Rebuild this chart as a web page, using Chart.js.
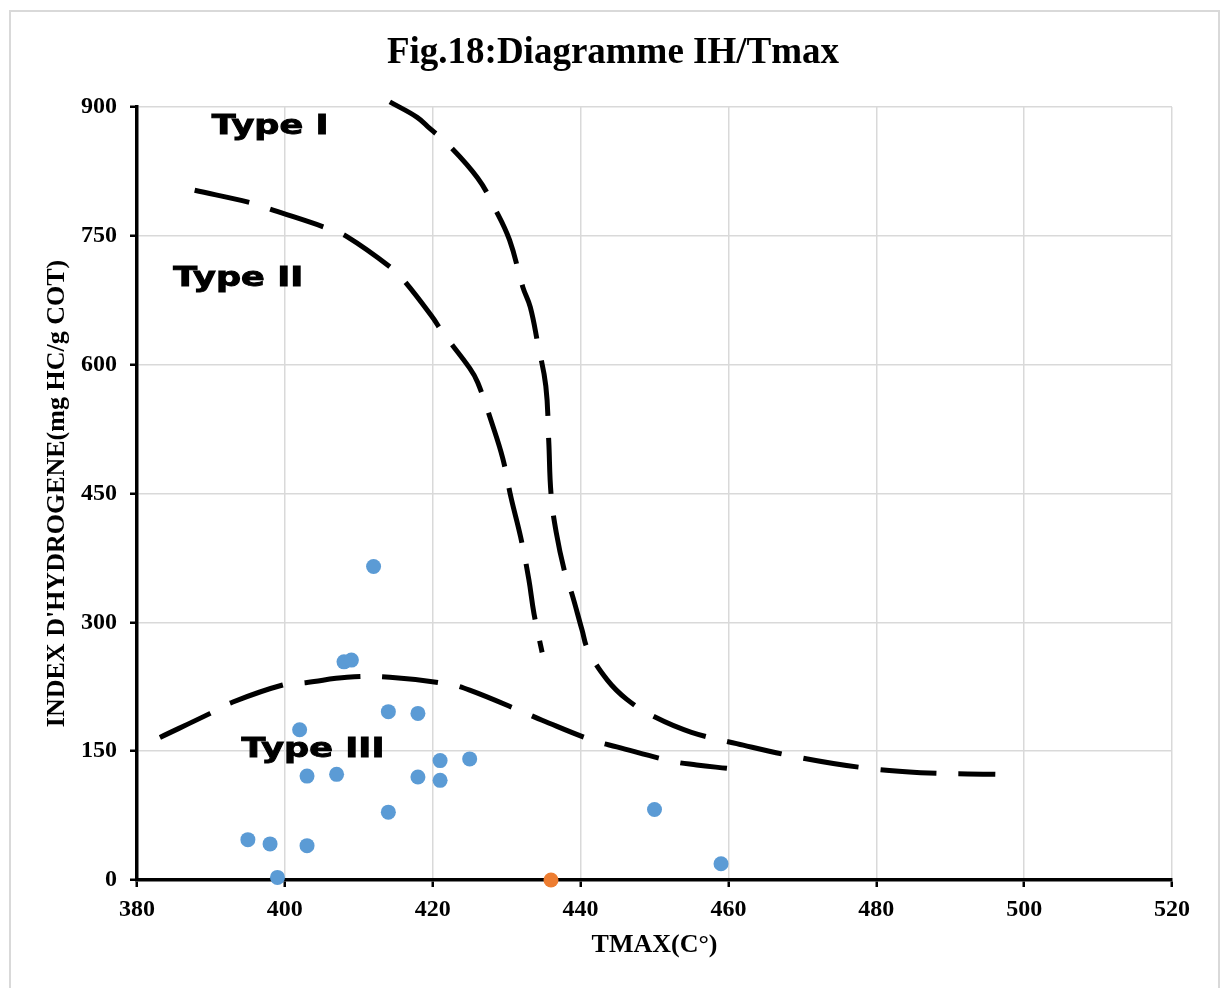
<!DOCTYPE html>
<html>
<head>
<meta charset="utf-8">
<script src="https://cdn.jsdelivr.net/npm/chart.js@4.4.1/dist/chart.umd.min.js"></script>
<style>
  html, body { margin: 0; padding: 0; background: #fff; }
  #wrap { position: relative; width: 1222px; height: 988px; overflow: hidden; }
  #frame { position: absolute; left: 9px; top: 10px; width: 1207px; height: 1000px;
           border: 2px solid #d9d9d9; pointer-events: none; }
  canvas { position: absolute; left: 0; top: 0; }
</style>
</head>
<body>
<div id="wrap">
  <canvas id="ihChart" width="1222" height="988"></canvas>
  <div id="frame"></div>
</div>
<script>
// samples (Tmax, IH)
const tmax = [412, 408, 409, 402, 414, 418, 403, 407, 418, 421, 421, 425, 414, 395, 398, 403, 399, 450, 459];
const ih   = [365, 254, 256, 175, 196, 194, 121, 123, 120, 139, 116, 141, 79, 47, 42, 40, 3, 82, 19];
const tmaxOrange = [436];
const ihOrange   = [0];

// Type I boundary
const type1X = [414.2, 417.9, 419.6, 421.9, 426.1, 428.4, 430.4, 432.2, 433.2, 434.2, 435.3, 435.7, 436.0, 436.7,
                437.9, 438.8, 440.2, 441.0, 443.6, 446.3, 450.0, 455.0, 462.0, 470.0, 478.0, 486.0, 496.1];
const type1Y = [906, 888, 875, 858, 817, 782, 745, 690, 667, 625, 575, 510, 450, 405,
                357, 334, 291, 268, 233, 210, 190, 172, 157, 142, 131, 125, 123];
// Type II boundary
const type2X = [387.8, 395.6, 398.4, 405.7, 408.4, 414.2, 416.0, 419.9, 421.3, 425.0, 426.1, 428.0, 429.5,
                430.6, 431.9, 433.0, 433.7, 434.8];
const type2Y = [803, 788, 780, 759, 749, 714, 699, 656, 638, 596, 579, 532, 490,
                445, 399, 350, 310, 265];
// Type III boundary
const type3X = [383.1, 389.9, 392.6, 399.7, 403.0, 408.4, 414.2, 422.1, 425.0, 432.1, 434.8, 441.5, 444.9,
                452.5, 455.7, 459.8];
const type3Y = [166, 194, 206, 227, 230, 236, 236, 228, 221, 196, 186, 163, 155,
                138, 134, 130];

const xTicks = [380, 400, 420, 440, 460, 480, 500, 520];
const yTicks = [0, 150, 300, 450, 600, 750, 900];

const chartTitle = 'Fig.18:Diagramme IH/Tmax';
const typeLabels = ['Type I', 'Type II', 'Type III'];
const typeLabelPos = [[398, 877], [393.7, 699], [403.8, 151]];

function toPoints(xs, ys) {
  const pts = [];
  for (let i = 0; i < xs.length; i++) {
    pts.push({ x: xs[i], y: ys[i] });
  }
  return pts;
}

function curve(xs, ys) {
  return {
    data: toPoints(xs, ys),
    showLine: true,
    borderColor: '#000',
    borderWidth: 5,
    borderDash: [56, 22],
    borderCapStyle: 'butt',
    pointRadius: 0,
    tension: 0.4,
    clip: false,
    fill: false
  };
}

const serif = '"Liberation Serif", "Times New Roman", serif';

// title centred on the whole figure, not on the plot
const titlePlugin = {
  id: 'figTitle',
  afterDraw(chart) {
    const ctx = chart.ctx;
    ctx.save();
    ctx.fillStyle = '#000';
    ctx.font = 'bold 37px ' + serif;
    ctx.textAlign = 'center';
    ctx.textBaseline = 'middle';
    ctx.fillText(chartTitle, chart.width / 2 + 2, 53);
    ctx.restore();
  }
};

// wide heavy labels, stretched a bit like Arial Black
const typeLabelPlugin = {
  id: 'typeLabels',
  afterDatasetsDraw(chart) {
    const ctx = chart.ctx;
    const xs = chart.scales.x;
    const ys = chart.scales.y;
    ctx.save();
    ctx.fillStyle = '#000';
    ctx.strokeStyle = '#000';
    ctx.lineWidth = 0.9;
    ctx.font = 'bold 26px "DejaVu Sans"';
    ctx.textAlign = 'center';
    ctx.textBaseline = 'middle';
    for (let i = 0; i < typeLabels.length; i++) {
      const px = xs.getPixelForValue(typeLabelPos[i][0]);
      const py = ys.getPixelForValue(typeLabelPos[i][1]);
      ctx.save();
      ctx.translate(px, py);
      ctx.scale(1.35, 1);
      ctx.fillText(typeLabels[i], 0, 0);
      ctx.strokeText(typeLabels[i], 0, 0);
      ctx.restore();
    }
    ctx.restore();
  }
};

new Chart(document.getElementById('ihChart'), {
  type: 'scatter',
  data: {
    datasets: [
      curve(type1X, type1Y),
      curve(type2X, type2Y),
      curve(type3X, type3Y),
      {
        data: toPoints(tmax, ih),
        backgroundColor: '#5b9bd5',
        borderColor: '#5b9bd5',
        pointRadius: 7.5,
        borderWidth: 0,
        clip: false
      },
      {
        data: toPoints(tmaxOrange, ihOrange),
        backgroundColor: '#ed7d31',
        borderColor: '#ed7d31',
        pointRadius: 7.5,
        borderWidth: 0,
        clip: false
      }
    ]
  },
  options: {
    responsive: false,
    animation: false,
    layout: { padding: { left: 0, right: 50, top: 107, bottom: 20 } },
    plugins: {
      legend: { display: false },
      tooltip: { enabled: false },
      title: { display: false }
    },
    scales: {
      x: {
        type: 'linear',
        min: 380,
        max: 520,
        afterBuildTicks: s => { s.ticks = xTicks.map(v => ({ value: v })); },
        afterFit: s => { s.height = 88; },
        ticks: {
          color: '#000',
          padding: 8,
          font: { family: serif, size: 24, weight: 'bold' }
        },
        grid: { color: '#d9d9d9', lineWidth: 1.5, tickColor: '#000', tickLength: 7, tickWidth: 2.5 },
        border: { color: '#000', width: 3.5 },
        title: {
          display: true,
          text: 'TMAX(C°)',
          color: '#000',
          font: { family: serif, size: 26, weight: 'bold' },
          padding: { top: 0, bottom: 7 }
        }
      },
      y: {
        type: 'linear',
        min: 0,
        max: 900,
        afterBuildTicks: s => { s.ticks = yTicks.map(v => ({ value: v })); },
        afterFit: s => { s.width = 137; },
        ticks: {
          color: '#000',
          padding: 13,
          font: { family: serif, size: 24, weight: 'bold' }
        },
        grid: { color: '#d9d9d9', lineWidth: 1.5, tickColor: '#000', tickLength: 7, tickWidth: 2.5 },
        border: { color: '#000', width: 3.5 },
        title: {
          display: true,
          text: "INDEX D'HYDROGENE(mg HC/g COT)",
          color: '#000',
          font: { family: serif, size: 26, weight: 'bold' },
          padding: { top: 42, bottom: 0 }
        }
      }
    }
  },
  plugins: [titlePlugin, typeLabelPlugin]
});
</script>
</body>
</html>
